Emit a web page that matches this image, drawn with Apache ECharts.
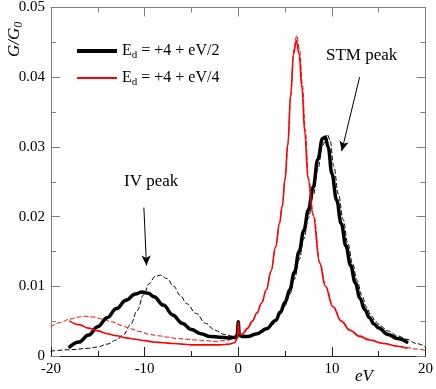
<!DOCTYPE html>
<html>
<head>
<meta charset="utf-8">
<script src="https://cdn.jsdelivr.net/npm/echarts@6/dist/echarts.min.js"></script>
<style>
  html, body { margin: 0; padding: 0; background: #fff; }
  #main { width: 436px; height: 389px; }
</style>
</head>
<body>
<div id="main"></div>
<script>
// axis ticks
var xTicks = [-20, -10, 0, 10, 20];
var yTicks = [0, 0.01, 0.02, 0.03, 0.04, 0.05];

// E_d = +4 + eV/2, full calculation (thick black)
var blackSolid = [
  [-18, 0.0013], [-17, 0.0020], [-16, 0.0030], [-15, 0.0042], [-14, 0.0055], [-13, 0.0068],
  [-12, 0.0080], [-11, 0.0089], [-10.3, 0.0092], [-9.6, 0.0090], [-9, 0.0085], [-8, 0.0073],
  [-7, 0.0059], [-6, 0.0047], [-5, 0.0038], [-4, 0.0032], [-3, 0.0028], [-2, 0.0027],
  [-1, 0.0026], [-0.3, 0.0027], [-0.1, 0.0031], [0, 0.0049], [0.1, 0.0031], [0.4, 0.0028],
  [1, 0.0028], [2, 0.0032], [3, 0.0039], [4, 0.0051], [4.5, 0.0063], [5.0, 0.0077],
  [5.5, 0.0095], [6.0, 0.0120], [6.5, 0.0150], [7.0, 0.0180], [7.5, 0.0210], [8.0, 0.0242],
  [8.5, 0.0282], [9.0, 0.0312], [9.3, 0.0314], [9.6, 0.0300], [10.0, 0.0262], [10.5, 0.0224],
  [11.0, 0.0190], [11.5, 0.0158], [12.0, 0.0130], [12.5, 0.0105], [13.0, 0.0083], [13.5, 0.0067],
  [14.0, 0.0055], [14.5, 0.0046], [15.0, 0.0040], [16, 0.0031], [17, 0.0025], [18, 0.0020]
];
// eV/2, approximation (thin black dashed)
var blackDashed = [
  [-20, 0.0007], [-18, 0.0009], [-16, 0.0011], [-15, 0.0013], [-14, 0.0017], [-13, 0.0023],
  [-12.3, 0.0030], [-11.5, 0.0045], [-10.8, 0.0065], [-10.1, 0.0088], [-9.5, 0.0104], [-8.9, 0.0114],
  [-8.3, 0.0116], [-7.6, 0.0111], [-6.9, 0.0100], [-6.2, 0.0087], [-5.5, 0.0075], [-4.5, 0.0061],
  [-3.5, 0.0047], [-2.5, 0.0037], [-1.5, 0.0031], [-0.5, 0.0028], [0.5, 0.0027], [1.5, 0.0029],
  [2.5, 0.0034], [3.5, 0.0043], [4.5, 0.0060], [5.0, 0.0072], [5.5, 0.0088], [6.0, 0.0110],
  [6.5, 0.0138], [7.0, 0.0168], [7.5, 0.0198], [8.0, 0.0230], [8.5, 0.0268], [9.0, 0.0302],
  [9.5, 0.0318], [9.8, 0.0310], [10.2, 0.0272], [10.7, 0.0232], [11.2, 0.0196], [11.7, 0.0162],
  [12.2, 0.0133], [12.7, 0.0108], [13.2, 0.0087], [13.7, 0.0070], [14.2, 0.0058], [14.7, 0.0049],
  [15.2, 0.0043], [16, 0.0036], [17, 0.0029], [18, 0.0024], [19, 0.0018], [20, 0.0013]
];
// E_d = +4 + eV/4, full calculation (red)
var redSolid = [
  [-18, 0.0050], [-17, 0.0045], [-16, 0.0040], [-15, 0.0036], [-14, 0.0032], [-13, 0.0029],
  [-12, 0.0026], [-11, 0.0024], [-10, 0.0022], [-9, 0.0020], [-8, 0.0019], [-7, 0.0018],
  [-6, 0.0017], [-5, 0.0016], [-4, 0.0016], [-3, 0.0016], [-2, 0.0016], [-1, 0.0017],
  [-0.4, 0.0019], [-0.1, 0.0025], [0, 0.0049], [0.1, 0.0032], [0.4, 0.0031], [1.0, 0.0040],
  [1.5, 0.0050], [2.0, 0.0062], [2.5, 0.0076], [3.0, 0.0095], [3.5, 0.0122], [4.0, 0.0157],
  [4.4, 0.0190], [4.7, 0.0215], [5.0, 0.0255], [5.3, 0.0305], [5.6, 0.0375], [5.9, 0.0433],
  [6.2, 0.0453], [6.5, 0.0433], [6.8, 0.0385], [7.1, 0.0322], [7.45, 0.0255], [8.0, 0.0202],
  [8.7, 0.0133], [9.3, 0.0100], [10.1, 0.0071], [11.0, 0.0050], [11.9, 0.0037], [13, 0.0028],
  [14, 0.0023], [15.5, 0.0018], [17, 0.0014], [18, 0.0011]
];
// eV/4, approximation (thin red dashed)
var redDashed = [
  [-20, 0.0042], [-19, 0.0048], [-18, 0.0053], [-17, 0.0056], [-16.4, 0.0057], [-15.5, 0.0056],
  [-14.5, 0.0053], [-13.5, 0.0049], [-12.5, 0.0044], [-11.5, 0.0039], [-10.5, 0.0035], [-9.5, 0.0031],
  [-8.5, 0.0029], [-7.5, 0.0027], [-6.5, 0.0025], [-5.5, 0.0024], [-4.5, 0.0023], [-3.5, 0.0022],
  [-2.5, 0.0021], [-1.5, 0.0022], [-0.5, 0.0024], [0.5, 0.0030], [1.0, 0.0039], [1.5, 0.0049],
  [2.0, 0.0061], [2.5, 0.0076], [3.0, 0.0094], [3.5, 0.0121], [4.0, 0.0156], [4.4, 0.0189],
  [4.7, 0.0214], [5.0, 0.0252], [5.3, 0.0302], [5.6, 0.0372], [5.95, 0.0440], [6.25, 0.0460],
  [6.55, 0.0440], [6.85, 0.0390], [7.15, 0.0325], [7.5, 0.0255], [8.05, 0.0202], [8.75, 0.0133],
  [9.35, 0.0100], [10.15, 0.0071], [11.05, 0.0050], [12, 0.0037], [13, 0.0029], [14, 0.0024],
  [15.5, 0.0018], [17, 0.0014], [18, 0.0012], [19, 0.0010], [20, 0.0008]
];

// annotation arrows, in data coordinates: [from, to]
var ivArrow = [[-10.08, 0.0213], [-9.8, 0.0130]];
var stmArrow = [[12.96, 0.0400], [11.05, 0.0294]];

var font = 'Liberation Serif';
var myChart = echarts.init(document.getElementById('main'));

var tickLabel = { fontFamily: font, fontSize: 15, color: '#000' };

function boxAxis(pos, isX, color, showLabel) {
  return {
    type: 'value',
    position: pos,
    min: isX ? -20 : 0,
    max: isX ? 20 : 0.05,
    interval: isX ? 10 : 0.01,
    axisLine: { show: true, onZero: false, lineStyle: { color: color, width: 1 } },
    axisTick: { show: true, inside: true, length: 9, lineStyle: { color: color } },
    minorTick: { show: true, splitNumber: 2, length: 5, lineStyle: { color: color } },
    splitLine: { show: false },
    axisLabel: Object.assign({ show: showLabel, margin: 6,
      formatter: function (v) { return isX ? String(v) : (v === 0 ? '0' : v.toFixed(2)); }
    }, tickLabel)
  };
}

function legendText(tail) {
  return '{e|E}{d|d}{e| = +4 + ' + tail + '}';
}

var legendRich = {
  e: { fontFamily: font, fontSize: 16, color: '#000' },
  d: { fontFamily: font, fontSize: 11, color: '#000', padding: [9, 0, 0, 0] }
};

function curve(name, data, color, width, dashed) {
  return {
    name: name, type: 'line', data: data, showSymbol: false,
    smooth: 0.4, smoothMonotone: 'x',
    itemStyle: { color: color },
    lineStyle: { color: color, width: width, type: dashed ? [4, 3] : 'solid', cap: 'round', join: 'round' }
  };
}

var blackMain = curve('eV/2', blackSolid, '#000', 3.5, false);
blackMain.markLine = {
  silent: true, symbol: ['none', 'arrow'], symbolSize: [7, 10],
  label: { show: false },
  lineStyle: { color: '#000', width: 1, type: 'solid' },
  data: [
    [{ coord: ivArrow[0] }, { coord: ivArrow[1] }],
    [{ coord: stmArrow[0] }, { coord: stmArrow[1] }]
  ]
};

var option = {
  animation: false,
  backgroundColor: '#fff',
  grid: { left: 51, right: 10, top: 7, bottom: 33 },
  xAxis: [boxAxis('bottom', true, '#222', true), boxAxis('top', true, '#808080', false)],
  yAxis: [boxAxis('left', false, '#808080', true), boxAxis('right', false, '#808080', false)],
  legend: [{
    left: 72, top: 38, orient: 'vertical',
    itemWidth: 40, itemHeight: 4, itemGap: 8,
    icon: 'rect',
    data: ['eV/2'],
    formatter: function () { return legendText('eV/2'); },
    textStyle: { rich: legendRich }
  }, {
    left: 72, top: 65, orient: 'vertical',
    itemWidth: 40, itemHeight: 2, itemGap: 8,
    icon: 'rect',
    data: ['eV/4'],
    formatter: function () { return legendText('eV/4'); },
    textStyle: { rich: legendRich }
  }],
  graphic: [
    { type: 'text', x: 5, y: 57, rotation: Math.PI / 2,
      style: {
        text: '{g|G/G}{s|0}',
        rich: {
          g: { fontFamily: font, fontStyle: 'italic', fontSize: 17, fill: '#000' },
          s: { fontFamily: font, fontStyle: 'italic', fontSize: 12, fill: '#000', padding: [8, 0, 0, 0] }
        }
      } },
    { type: 'text', x: 355, y: 368,
      style: { text: 'eV', font: 'italic 17px "Liberation Serif"', fill: '#000' } },
    { type: 'text', x: 124, y: 173,
      style: { text: 'IV peak', font: '17px "Liberation Serif"', fill: '#000' } },
    { type: 'text', x: 326, y: 47,
      style: { text: 'STM peak', font: '17px "Liberation Serif"', fill: '#000' } }
  ],
  series: [
    curve('eV/2dash', blackDashed, '#000', 1, true),
    curve('eV/4dash', redDashed, '#ff0000', 1, true),
    blackMain,
    curve('eV/4', redSolid, '#ff0000', 1.6, false)
  ]
};

myChart.setOption(option, true);
window.addEventListener('resize', function () {
  myChart.resize();
});
</script>
</body>
</html>
